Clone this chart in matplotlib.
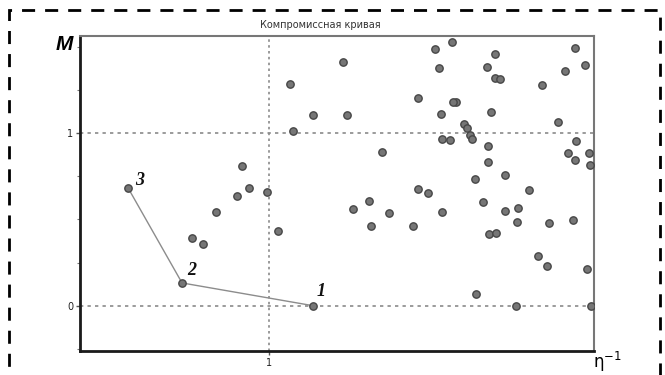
import matplotlib.pyplot as plt
from matplotlib.patches import Rectangle
from matplotlib.ticker import MultipleLocator

# обратная эффективность (eta^-1) и показатель M для всех вариантов
inv_eta = [0.254, 0.539, 1.231, 0.593, 0.651, 0.717, 0.828, 0.854, 0.894, 0.989,
           1.048, 1.108, 1.127, 1.229, 1.391, 1.409, 1.594, 1.444, 1.527, 1.536,
           1.632, 1.761, 1.784, 1.837, 1.911, 1.784, 1.874, 1.967, 1.895, 1.985,
           1.970, 1.905, 2.030, 2.046, 2.060, 2.069, 1.914, 1.955, 2.192, 2.150,
           2.191, 2.219, 2.441, 2.613, 2.669, 2.560, 2.171, 2.527, 2.157, 2.157,
           2.620, 2.578, 2.690, 2.613, 2.696, 2.087, 2.244, 2.373, 2.130, 2.244,
           2.312, 2.307, 2.479, 2.603, 2.161, 2.198, 2.421, 2.469, 2.677, 2.092,
           2.303, 2.699]
m_vals = [0.683, 0.132, 0.000, 0.394, 0.358, 0.544, 0.636, 0.810, 0.684, 0.658,
          0.435, 1.284, 1.015, 1.104, 1.412, 1.104, 0.893, 0.561, 0.607, 0.461,
          0.538, 0.461, 0.679, 0.654, 0.544, 1.206, 1.487, 1.531, 1.377, 1.182,
          1.184, 1.110, 1.056, 1.029, 0.990, 0.965, 0.965, 0.961, 1.462, 1.385,
          1.319, 1.315, 1.282, 1.493, 1.398, 1.360, 1.124, 1.066, 0.926, 0.835,
          0.957, 0.887, 0.887, 0.845, 0.818, 0.735, 0.756, 0.671, 0.604, 0.551,
          0.568, 0.486, 0.480, 0.499, 0.418, 0.423, 0.288, 0.230, 0.213, 0.066,
          0.000, 0.000]

# точки компромиссной кривой (индексы в массивах выше) и их подписи
curve_idx = [0, 1, 2]
curve_labels = ["3", "2", "1"]

fig = plt.figure(figsize=(6.65, 3.75), dpi=100)
ax = fig.add_axes([0.1203, 0.0648, 0.7729, 0.84])

ax.set_xlim(0, 2.715)
ax.set_ylim(-0.261, 1.566)

# сетка только по линиям 0, 1 и x = 1
for y in (0, 1):
    ax.axhline(y, color="#8a8a8a", lw=1.2, ls=(0, (2, 2.5)), zorder=1)
ax.axvline(1, color="#8a8a8a", lw=1.2, ls=(0, (1.5, 2)), zorder=1)

cx = [inv_eta[i] for i in curve_idx]
cy = [m_vals[i] for i in curve_idx]
ax.plot(cx, cy, color="#8c8c8c", lw=1, zorder=2)

ax.plot(inv_eta, m_vals, ls="none", marker="o", ms=5.3, mfc="#767676",
        mec="#474747", mew=1.0, zorder=3)

offsets = [(0.063, 0.046), (0.053, 0.075), (0.042, 0.081)]
for (x, y), lab, (dx, dy) in zip(zip(cx, cy), curve_labels, offsets):
    ax.text(x + dx, y + dy, lab, fontsize=13, fontweight="bold", fontstyle="italic",
            family="Liberation Serif", color="#111111", va="center", ha="center")

ax.set_xticks([1])
ax.set_xticklabels(["1"])
ax.set_yticks([0, 1])
ax.set_yticklabels(["0", "1"])
ax.yaxis.set_minor_locator(MultipleLocator(0.25))
ax.tick_params(axis="both", which="major", labelsize=7, length=3, width=1,
               color="#555555", labelcolor="#222222", pad=2)
ax.tick_params(axis="y", which="minor", length=2, width=0.8, color="#777777")

for side in ("left", "bottom"):
    ax.spines[side].set_color("#1a1a1a")
    ax.spines[side].set_linewidth(2)
for side in ("top", "right"):
    ax.spines[side].set_color("#777777")
    ax.spines[side].set_linewidth(1.5)

fig.text(320 / 665, 1 - 25 / 375, "Компромиссная кривая", fontsize=7,
         color="#333333", ha="center", va="center")
fig.text(64 / 665, 1 - 44 / 375, "M", fontsize=15, fontweight="bold",
         fontstyle="italic", family="Liberation Sans", ha="center", va="center")
fig.text(607 / 665, 1 - 362 / 375, r"η$^{-1}$", fontsize=12, ha="center",
         va="center", family="DejaVu Sans")

# пунктирная рамка вокруг всего рисунка
frame = Rectangle((9 / 665, -0.1), 651 / 665, 1.1 - 10 / 375, transform=fig.transFigure,
                  fill=False, edgecolor="black", lw=2, ls=(0, (4.7, 3.6)),
                  clip_on=False)
fig.patches.append(frame)

fig.savefig("out.png", dpi=100)
